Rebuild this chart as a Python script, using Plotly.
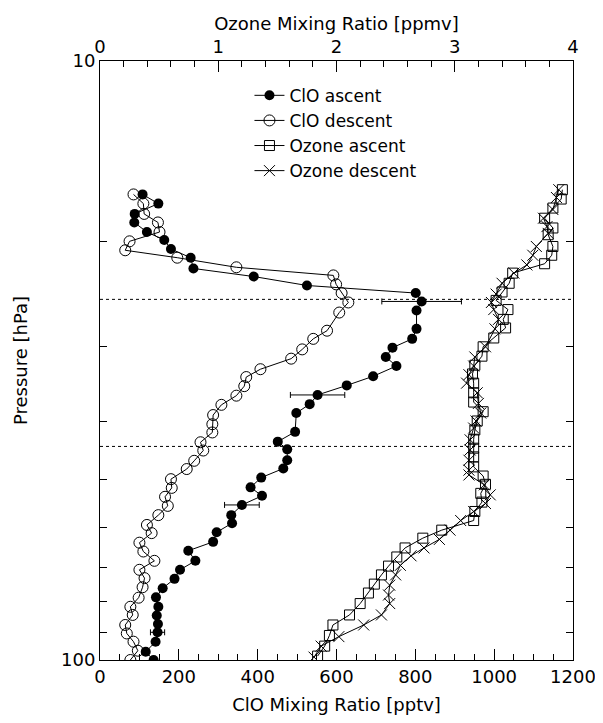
import plotly.graph_objects as go

# ---------------- data ----------------
# ClO ascent (filled circles)
clo_asc_p = [16.7, 17.3, 18.0, 18.6, 19.3, 19.9, 20.6, 21.3, 22.2, 22.9, 23.7, 24.4, 25.2, 26.1,
             28.0, 29.1, 30.1, 31.2, 32.3, 33.6, 34.8, 36.1, 37.4, 38.7, 41.6, 43.2, 44.5, 46.4,
             47.9, 49.6, 51.5, 53.2, 55.1, 57.3, 59.1, 61.2, 63.5, 65.7, 68.3, 70.7, 73.2, 75.9,
             78.6, 81.5, 84.3, 87.1, 89.9, 93.2, 96.9, 100.0]
clo_asc_v = [108, 148, 88, 87, 119, 163, 180, 230, 237, 390, 525, 801, 816, 803,
             803, 792, 742, 725, 752, 693, 626, 552, 532, 498, 495, 451, 475, 475,
             465, 409, 382, 411, 360, 333, 335, 296, 287, 224, 242, 203, 189, 159,
             142, 148, 144, 147, 146, 141, 116, 136]
clo_asc_err = [0, 0, 0, 0, 0, 0, 0, 0, 0, 0, 0, 0, 101, 0,
               0, 0, 0, 0, 0, 0, 0, 69, 0, 0, 0, 0, 0, 0,
               0, 0, 0, 0, 44, 0, 0, 0, 0, 0, 0, 0, 0, 0,
               0, 0, 0, 0, 18, 0, 0, 0]

# ClO descent (open circles)
clo_des_p = [16.7, 17.3, 18.0, 18.6, 19.3, 20.0, 20.7, 21.3, 22.1, 22.8, 23.6, 24.4, 25.3, 26.3,
             28.2, 29.1, 30.3, 31.4, 32.7, 33.7, 34.9, 36.2, 37.5, 39.0, 40.4, 41.7, 43.3, 44.7,
             46.5, 48.0, 49.9, 51.6, 53.4, 55.3, 57.3, 59.5, 61.4, 63.7, 65.9, 68.3, 70.7, 73.0,
             75.6, 78.7, 81.5, 84.1, 87.4, 90.3, 93.2, 96.5, 100.0]
clo_des_v = [85, 110, 112, 147, 151, 75, 64, 196, 346, 592, 599, 613, 630, 607,
             576, 541, 513, 485, 407, 371, 366, 346, 308, 287, 285, 285, 255, 262,
             239, 220, 180, 182, 165, 172, 148, 119, 131, 100, 110, 138, 100, 113,
             108, 98, 77, 83, 64, 68, 85, 96, 77]

# Ozone ascent (squares)
o3_asc_p = [16.4, 17.0, 17.6, 18.3, 19.0, 19.5, 20.4, 21.1, 21.8, 22.6, 23.5, 24.3, 25.1, 26.0,
            27.0, 27.9, 29.0, 30.0, 31.1, 32.2, 33.3, 34.5, 35.8, 37.1, 38.5, 39.9, 41.3, 42.8,
            44.3, 45.8, 47.6, 49.3, 50.9, 52.7, 54.5, 56.5, 58.5, 60.7, 62.6, 65.0, 67.3, 69.7,
            72.1, 74.7, 77.3, 80.5, 84.1, 87.4, 91.0, 94.8, 98.5]
o3_asc_v = [3.91, 3.90, 3.83, 3.76, 3.83, 3.79, 3.83, 3.82, 3.76, 3.49, 3.46, 3.40, 3.35, 3.45,
            3.41, 3.43, 3.33, 3.24, 3.23, 3.17, 3.15, 3.16, 3.16, 3.16, 3.24, 3.19, 3.17, 3.16,
            3.16, 3.16, 3.16, 3.24, 3.26, 3.22, 3.23, 3.17, 3.16, 2.89, 2.73, 2.58, 2.51, 2.44,
            2.38, 2.32, 2.27, 2.20, 2.11, 1.97, 1.94, 1.90, 1.84]

# Ozone descent (crosses)
o3_des_p = [16.4, 16.9, 17.7, 18.3, 18.9, 19.4, 20.4, 21.1, 21.9, 22.6, 23.5, 24.5, 25.3, 26.0,
            27.0, 28.0, 30.0, 31.2, 32.3, 33.4, 34.5, 35.8, 37.3, 38.7, 39.9, 41.0, 42.9, 44.6,
            46.4, 48.2, 49.1, 51.0, 53.0, 54.8, 56.5, 58.5, 60.7, 62.9, 65.0, 67.0, 69.5, 72.1,
            75.0, 77.9, 80.5, 84.1, 87.4, 91.4, 94.8, 98.9]
o3_des_v = [3.88, 3.86, 3.83, 3.75, 3.78, 3.79, 3.69, 3.66, 3.61, 3.50, 3.40, 3.35, 3.31, 3.33,
            3.37, 3.34, 3.26, 3.17, 3.16, 3.12, 3.10, 3.19, 3.20, 3.22, 3.18, 3.16, 3.13, 3.13,
            3.12, 3.12, 3.12, 3.25, 3.30, 3.26, 3.16, 3.05, 2.96, 2.87, 2.74, 2.63, 2.54, 2.50,
            2.45, 2.44, 2.45, 2.38, 2.23, 2.02, 1.87, 1.81]

# reference pressure levels (dotted lines)
ref_levels = [25.0, 44.0]
clo_range = [0, 1200]
o3_range = [0, 4]
clo_ticks = [0, 200, 400, 600, 800, 1000, 1200]
o3_ticks = [0, 1, 2, 3, 4]
p_ticks = [10, 100]
p_minor = [20, 30, 40, 50, 60, 70, 80, 90]

FONT = "DejaVu Sans"
FS = 18

fig = go.Figure()

for lvl in ref_levels:
    fig.add_trace(go.Scatter(x=clo_range, y=[lvl, lvl], mode="lines",
                             line=dict(color="black", width=1, dash="dot"),
                             showlegend=False, hoverinfo="skip"))

fig.add_trace(go.Scatter(
    x=clo_asc_v, y=clo_asc_p, name="ClO ascent", mode="lines+markers",
    line=dict(color="black", width=1),
    marker=dict(symbol="circle", size=10, color="black"),
    error_x=dict(type="data", array=clo_asc_err, symmetric=True, color="black",
                 thickness=1, width=3),
))
fig.add_trace(go.Scatter(
    x=clo_des_v, y=clo_des_p, name="ClO descent", mode="lines+markers",
    line=dict(color="black", width=1),
    marker=dict(symbol="circle-open", size=11, color="black", line=dict(width=1)),
))
fig.add_trace(go.Scatter(
    x=o3_asc_v, y=o3_asc_p, name="Ozone ascent", mode="lines+markers", xaxis="x2",
    line=dict(color="black", width=1),
    marker=dict(symbol="square-open", size=10, color="black", line=dict(width=1)),
))
fig.add_trace(go.Scatter(
    x=o3_des_v, y=o3_des_p, name="Ozone descent", mode="lines+markers", xaxis="x2",
    line=dict(color="black", width=1),
    marker=dict(symbol="x-thin-open", size=11, color="black", line=dict(width=1, color="black")),
))

axis_common = dict(showgrid=False, zeroline=False, showline=True, linecolor="black",
                   linewidth=1, ticks="inside", tickcolor="black", tickwidth=1,
                   tickfont=dict(family=FONT, size=FS, color="black"))

fig.update_layout(
    width=603, height=723,
    margin=dict(l=90, r=38, t=53, b=71),
    paper_bgcolor="white", plot_bgcolor="white",
    font=dict(family=FONT, size=FS, color="black"),
    xaxis=dict(range=clo_range, tickvals=clo_ticks, ticklen=11,
               minor=dict(dtick=50, ticks="inside", ticklen=6, tickcolor="black"),
               title=dict(text="ClO Mixing Ratio [pptv]", standoff=12,
                          font=dict(family=FONT, size=FS)),
               **axis_common),
    xaxis2=dict(range=o3_range, tickvals=o3_ticks, ticklen=11, overlaying="x", side="top",
                anchor="y",
                minor=dict(dtick=0.2, ticks="inside", ticklen=6, tickcolor="black"),
                title=dict(text="Ozone Mixing Ratio [ppmv]", standoff=0,
                           font=dict(family=FONT, size=FS)),
                **axis_common),
    yaxis=dict(type="log", range=[2, 1], tickvals=p_ticks, ticktext=["10", "100"],
               ticklen=7, mirror="ticks",
               minor=dict(tickvals=p_minor, ticks="inside", ticklen=7, tickcolor="black"),
               title=dict(text="Pressure [hPa]", standoff=28,
                          font=dict(family=FONT, size=FS)),
               **axis_common),
    legend=dict(x=0.316, y=0.972, xanchor="left", yanchor="top",
                bgcolor="rgba(0,0,0,0)", font=dict(family=FONT, size=17),
                itemwidth=30, tracegroupgap=0),
    showlegend=True,
)

fig.write_html("out.html")
